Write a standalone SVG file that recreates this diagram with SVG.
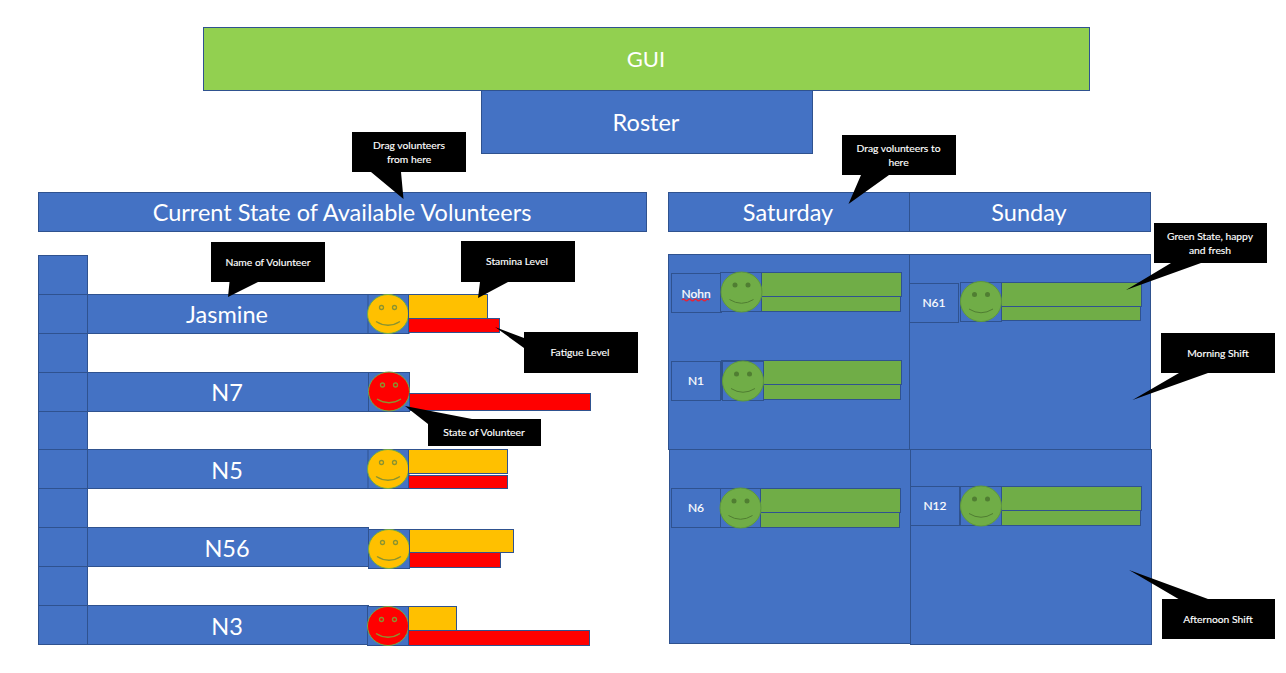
<svg xmlns="http://www.w3.org/2000/svg" width="1286" height="673" viewBox="0 0 1286 673">
<style>
text{font-family:Lato,"Liberation Sans",sans-serif;fill:#fff;text-anchor:middle}
.b{fill:#4472c4;stroke:#2f528f;stroke-width:1}
.y{fill:#ffc000;stroke:#2f528f;stroke-width:1}
.r{fill:#f00;stroke:#2f528f;stroke-width:1}
.g{fill:#70ad47;stroke:#2f528f;stroke-width:1}
.k{fill:#000}
.h1{font-size:23.500px}
.n{font-size:12px;stroke:#fff;stroke-width:.2px}
.c{font-size:10.300px;stroke:#fff;stroke-width:.15px}
.line{fill:none;stroke:#8a9330;stroke-width:1.300}
.gl{fill:none;stroke:#507e32;stroke-width:1}
</style>
<defs>
<g id="faceg"><ellipse rx="20.500" ry="20" fill="#70ad47" stroke="#5f9a3b"/><path class="gl" d="M-12,7.500Q0,15 12,7.500"/><circle cx="-6.500" cy="-7" r="2.500" fill="#507e32"/><circle cx="6.500" cy="-7" r="2.500" fill="#507e32"/></g>
<g id="facey"><ellipse rx="20.500" ry="19.500" fill="#ffc000" stroke="#70ad47"/><path class="line" d="M-12,7.500Q0,15 12,7.500"/><circle class="line" cx="-6.500" cy="-6.500" r="2"/><circle class="line" cx="6.500" cy="-6.500" r="2"/></g>
<g id="facer"><ellipse rx="20.500" ry="19.500" fill="#f00" stroke="#70ad47"/><path class="line" d="M-12,7.500Q0,15 12,7.500"/><circle class="line" cx="-6.500" cy="-6.500" r="2"/><circle class="line" cx="6.500" cy="-6.500" r="2"/></g>
</defs>
<rect width="1286" height="673" fill="#fff"/>
<g id="headers">
<g id="gui"><rect class="g" x="203.500" y="27.500" width="886" height="63" style="fill:#92d050"/><text class="h1" x="646" y="67" style="font-size:22px">GUI</text></g>
<g id="roster"><rect class="b" x="481.500" y="90.500" width="331" height="63"/><text class="h1" x="646" y="130.500">Roster</text></g>
<g id="current"><rect class="b" x="38.500" y="192.500" width="608" height="39"/><text class="h1" x="342" y="220.500">Current State of Available Volunteers</text></g>
<g id="saturday"><rect class="b" x="668.500" y="192.500" width="241" height="39"/><text class="h1" x="788" y="220.500">Saturday</text></g>
<g id="sunday"><rect class="b" x="909.500" y="192.500" width="241" height="39"/><text class="h1" x="1029" y="220.500">Sunday</text></g>
</g>
<g id="column">
<rect class="b" x="38.500" y="255.500" width="49" height="39"/><rect class="b" x="38.500" y="294.500" width="49" height="39"/><rect class="b" x="38.500" y="333.500" width="49" height="39"/><rect class="b" x="38.500" y="372.500" width="49" height="39"/><rect class="b" x="38.500" y="411.500" width="49" height="38"/><rect class="b" x="38.500" y="449.500" width="49" height="39"/><rect class="b" x="38.500" y="488.500" width="49" height="39"/><rect class="b" x="38.500" y="527.500" width="49" height="39"/><rect class="b" x="38.500" y="566.500" width="49" height="39"/><rect class="b" x="38.500" y="605.500" width="49" height="39"/>
</g>
<g id="v-jasmine"><rect class="b" x="87.500" y="294.500" width="281" height="39"/><text class="h1" x="227" y="322.500">Jasmine</text><rect class="b" x="368" y="294.500" width="41" height="39"/><use href="#facey" x="388" y="314"/><rect class="y" x="408.500" y="294.500" width="79" height="24"/><rect class="r" x="408.500" y="318.500" width="91" height="14"/></g>
<g id="v-n7"><rect class="b" x="87.500" y="372.500" width="281" height="39"/><text class="h1" x="227" y="400.500">N7</text><rect class="b" x="368.500" y="372.500" width="41" height="39"/><use href="#facer" x="389" y="391.500"/><rect class="r" x="409.500" y="393.500" width="181" height="17"/></g>
<g id="v-n5"><rect class="b" x="87.500" y="449.500" width="281" height="39"/><text class="h1" x="227" y="478.500">N5</text><rect class="b" x="368" y="449.500" width="41" height="39"/><use href="#facey" x="388" y="469"/><rect class="y" x="408.500" y="449.500" width="99" height="24"/><rect class="r" x="408.500" y="475.500" width="99" height="13"/></g>
<g id="v-n56"><rect class="b" x="87.500" y="527.500" width="281" height="39"/><text class="h1" x="227" y="556.500">N56</text><rect class="b" x="368.500" y="529.500" width="41" height="39"/><use href="#facey" x="389" y="549"/><rect class="y" x="409.500" y="529.500" width="104" height="23"/><rect class="r" x="409.500" y="552.500" width="91" height="15"/></g>
<g id="v-n3"><rect class="b" x="87.500" y="605.500" width="281" height="39"/><text class="h1" x="227" y="634.500">N3</text><rect class="b" x="367.500" y="606.500" width="41" height="39"/><use href="#facer" x="388" y="626"/><rect class="y" x="408.500" y="606.500" width="48" height="24"/><rect class="r" x="408.500" y="630.500" width="181" height="15"/></g>
<g id="panels"><rect class="b" x="668.500" y="254.500" width="241" height="195"/><rect class="b" x="909.500" y="254.500" width="241" height="195"/><rect class="b" x="669.500" y="449.500" width="241" height="194"/><rect class="b" x="910.500" y="449.500" width="241" height="195"/></g>
<g id="s-nohn"><rect class="b" x="671.500" y="273.500" width="50" height="39"/><text class="n" x="696" y="298">Nohn</text><path d="M682,300q1.500-1.800 3 0t3 0t3 0t3 0t3 0t3 0t3 0t3 0t3 0" fill="none" stroke="#f01f2f" stroke-width="1.200"/><rect class="b" x="720.500" y="272.500" width="41" height="39"/><rect class="g" x="761.500" y="272.500" width="140" height="24"/><rect class="g" x="761.500" y="296.500" width="139" height="15"/><use href="#faceg" x="741.500" y="292"/></g>
<g id="s-n1"><rect class="b" x="671.500" y="361.500" width="49" height="39"/><text class="n" x="696" y="385">N1</text><rect class="g" x="721.500" y="360.500" width="180" height="24"/><rect class="g" x="721.500" y="384.500" width="179" height="15"/><rect class="b" x="722.500" y="361.500" width="41" height="39"/><use href="#faceg" x="743" y="381"/></g>
<g id="s-n61"><rect class="b" x="909.500" y="283.500" width="49" height="39"/><text class="n" x="934" y="307">N61</text><rect class="b" x="960.500" y="282.500" width="41" height="39"/><rect class="g" x="1001.500" y="282.500" width="140" height="24"/><rect class="g" x="1001.500" y="306.500" width="139" height="14"/><use href="#faceg" x="981" y="301.500"/></g>
<g id="s-n6"><rect class="b" x="671.500" y="488.500" width="49" height="39"/><text class="n" x="696" y="512">N6</text><rect class="b" x="720.500" y="488.500" width="40" height="39"/><rect class="g" x="760.500" y="488.500" width="140" height="24"/><rect class="g" x="760.500" y="512.500" width="139" height="15"/><use href="#faceg" x="740.500" y="508"/></g>
<g id="s-n12"><rect class="b" x="910.500" y="486.500" width="49" height="39"/><text class="n" x="935" y="510">N12</text><rect class="b" x="960.500" y="486.500" width="41" height="39"/><rect class="g" x="1001.500" y="486.500" width="140" height="24"/><rect class="g" x="1001.500" y="510.500" width="139" height="15"/><use href="#faceg" x="981" y="506"/></g>
<g id="callouts">
<g id="c-drag-from"><path class="k" d="M352,132H466V172H401L403.500,199L371,172H352Z"/><text class="c" x="409" y="148.500">Drag volunteers</text><text class="c" x="409" y="162.500">from here</text></g>
<g id="c-drag-to"><path class="k" d="M842,135H956V175H889L848.500,204L861,175H842Z"/><text class="c" x="898.500" y="151.500">Drag volunteers to</text><text class="c" x="898.500" y="165.500">here</text></g>
<g id="c-name"><path class="k" d="M211,242H325V282H258L228,297L229.500,282H211Z"/><text class="c" x="268" y="265.500">Name of Volunteer</text></g>
<g id="c-stamina"><path class="k" d="M461,241H575V282H508L478,298L480,282H461Z"/><text class="c" x="517" y="264.500">Stamina Level</text></g>
<g id="c-fatigue"><path class="k" d="M524,332H638V373H524V348L495,327L524,338Z"/><text class="c" x="580" y="355.500">Fatigue Level</text></g>
<g id="c-state"><path class="k" d="M405,406L472,419H541V446H428V424Z"/><text class="c" x="484" y="435.500">State of Volunteer</text></g>
<g id="c-green"><path class="k" d="M1154,223H1267V263H1201L1126,290L1171,263H1154Z"/><text class="c" x="1210" y="239.500">Green State, happy</text><text class="c" x="1210" y="253.500">and fresh</text></g>
<g id="c-morning"><path class="k" d="M1161,333H1275V373H1208L1132.500,400L1179,373H1161Z"/><text class="c" x="1218" y="356.500">Morning Shift</text></g>
<g id="c-afternoon"><path class="k" d="M1162,599H1178.500L1129,570L1208,599H1275V639H1162Z"/><text class="c" x="1218" y="622.500">Afternoon Shift</text></g>
</g>
</svg>
